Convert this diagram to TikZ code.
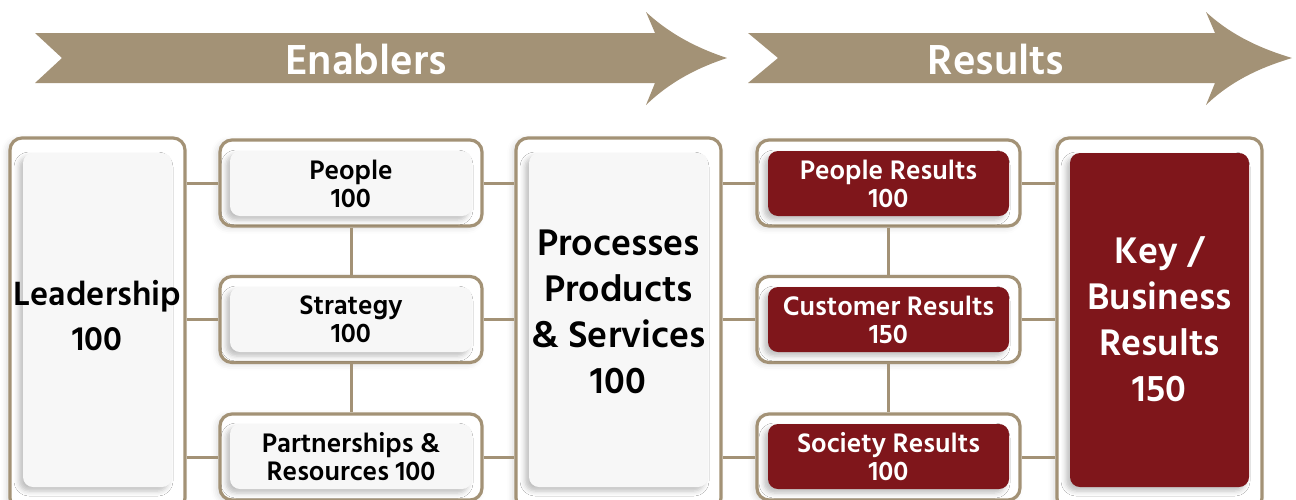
\documentclass[tikz,border=0pt]{standalone}
\usepackage{fontspec}
\setmainfont{Hind Siliguri}
\usetikzlibrary{shadows.blur}
\definecolor{tan}{RGB}{163,146,118}
\definecolor{wine}{RGB}{127,22,27}
\definecolor{pale}{RGB}{247,247,247}
\tikzset{
  outerbox/.style={draw=tan, line width=3.2pt, fill=white, rounded corners=12pt, inner sep=0pt,
    blur shadow={shadow xshift=-3pt, shadow yshift=-2pt, shadow opacity=15, shadow blur radius=6pt}},
  innerbox/.style={rounded corners=10pt, inner sep=0pt, align=center, font=\bfseries,
    blur shadow={shadow xshift=-4pt, shadow yshift=-4pt, shadow opacity=25, shadow blur radius=5pt}},
  enabler/.style={innerbox, fill=pale, text=black},
  result/.style={innerbox, fill=wine, text=white},
  smalltext/.style={font=\bfseries\fontsize{27.5}{28}\selectfont},
  bigtext/.style={align=center, font=\bfseries\fontsize{38}{46}\selectfont},
  leadtext/.style={align=center, font=\bfseries\fontsize{34.5}{45}\selectfont},
  link/.style={draw=tan, line width=3pt},
  banner/.style={fill=tan},
  bannertext/.style={text=white, font=\bfseries\fontsize{43}{44}\selectfont}
}
\begin{document}
\begin{tikzpicture}[x=1pt,y=-1pt]
\useasboundingbox (0,0) rectangle (1296,499);
% banners
\fill[banner] (35,33) -- (655,33) -- (646,12) .. controls (672,36) and (700,49) .. (727,58)
  .. controls (700,67) and (672,80) .. (646,105) -- (655,83) -- (35,83) -- (62,58) -- cycle;
\node[bannertext] (enab) at (366,59) {Enablers};
\fill[banner] (748,33) -- (1215,33) -- (1206,12) .. controls (1232,36) and (1262,49) .. (1292,58)
  .. controls (1262,67) and (1232,80) .. (1206,105) -- (1215,83) -- (748,83) -- (778,58) -- cycle;
\node[bannertext] (res) at (996,59) {Results};
% outer boxes
\node[outerbox, minimum width=175pt, minimum height=372pt] (lead) at (97.5,324) {};
\node[outerbox, minimum width=262pt, minimum height=86pt] (people) at (351,183) {};
\node[outerbox, minimum width=262pt, minimum height=86pt] (strategy) at (351,319.5) {};
\node[outerbox, minimum width=262pt, minimum height=86pt] (partner) at (351,457) {};
\node[outerbox, minimum width=205pt, minimum height=372pt] (proc) at (618.5,324) {};
\node[outerbox, minimum width=263pt, minimum height=86pt] (pres) at (888.5,183) {};
\node[outerbox, minimum width=263pt, minimum height=86pt] (cres) at (888.5,319.5) {};
\node[outerbox, minimum width=263pt, minimum height=86pt] (sres) at (888.5,457) {};
\node[outerbox, minimum width=205pt, minimum height=372pt] (key) at (1159.5,324) {};
% connectors
\draw[link] (lead.east |- people.west) -- (people.west);
\draw[link] (lead.east |- strategy.west) -- (strategy.west);
\draw[link] (lead.east |- partner.west) -- (partner.west);
\draw[link] (people.east) -- (proc.west |- people.east);
\draw[link] (strategy.east) -- (proc.west |- strategy.east);
\draw[link] (partner.east) -- (proc.west |- partner.east);
\draw[link] (people.south) -- (strategy.north);
\draw[link] (strategy.south) -- (partner.north);
\draw[link] (proc.east |- pres.west) -- (pres.west);
\draw[link] (proc.east |- cres.west) -- (cres.west);
\draw[link] (proc.east |- sres.west) -- (sres.west);
\draw[link] (pres.east) -- (key.west |- pres.east);
\draw[link] (cres.east) -- (key.west |- cres.east);
\draw[link] (sres.east) -- (key.west |- sres.east);
\draw[link] (pres.south) -- (cres.north);
\draw[link] (cres.south) -- (sres.north);
% inner boxes
\node[enabler, minimum width=149pt, minimum height=334pt] (leadin) at (97.5,320) {};
\node[leadtext] (leadtxt) at (97.5,316) {Leadership\\100};
\node[enabler, smalltext, minimum width=242pt, minimum height=65pt] (peoplein) at (351,183.5) {People\\100};
\node[enabler, smalltext, minimum width=242pt, minimum height=65pt] (stratin) at (351,319.5) {Strategy\\100};
\node[enabler, smalltext, minimum width=242pt, minimum height=65pt] (partin) at (351,456.5) {Partnerships \&\\Resources 100};
\node[enabler, minimum width=179pt, minimum height=334pt] (procin) at (618.5,320) {};
\node[bigtext] (proctxt) at (618.5,312) {Processes\\Products\\\& Services\\100};
\node[result, smalltext, minimum width=241pt, minimum height=65pt] (presin) at (888.5,183.5) {People Results\\100};
\node[result, smalltext, minimum width=241pt, minimum height=65pt] (cresin) at (888.5,319.5) {Customer Results\\150};
\node[result, smalltext, minimum width=241pt, minimum height=65pt] (sresin) at (888.5,456.5) {Society Results\\100};
\node[result, minimum width=179pt, minimum height=334pt] (keyin) at (1159.5,320) {};
\node[bigtext, text=white] (keytxt) at (1159.5,319) {Key /\\Business\\Results\\150};
\end{tikzpicture}
\end{document}
